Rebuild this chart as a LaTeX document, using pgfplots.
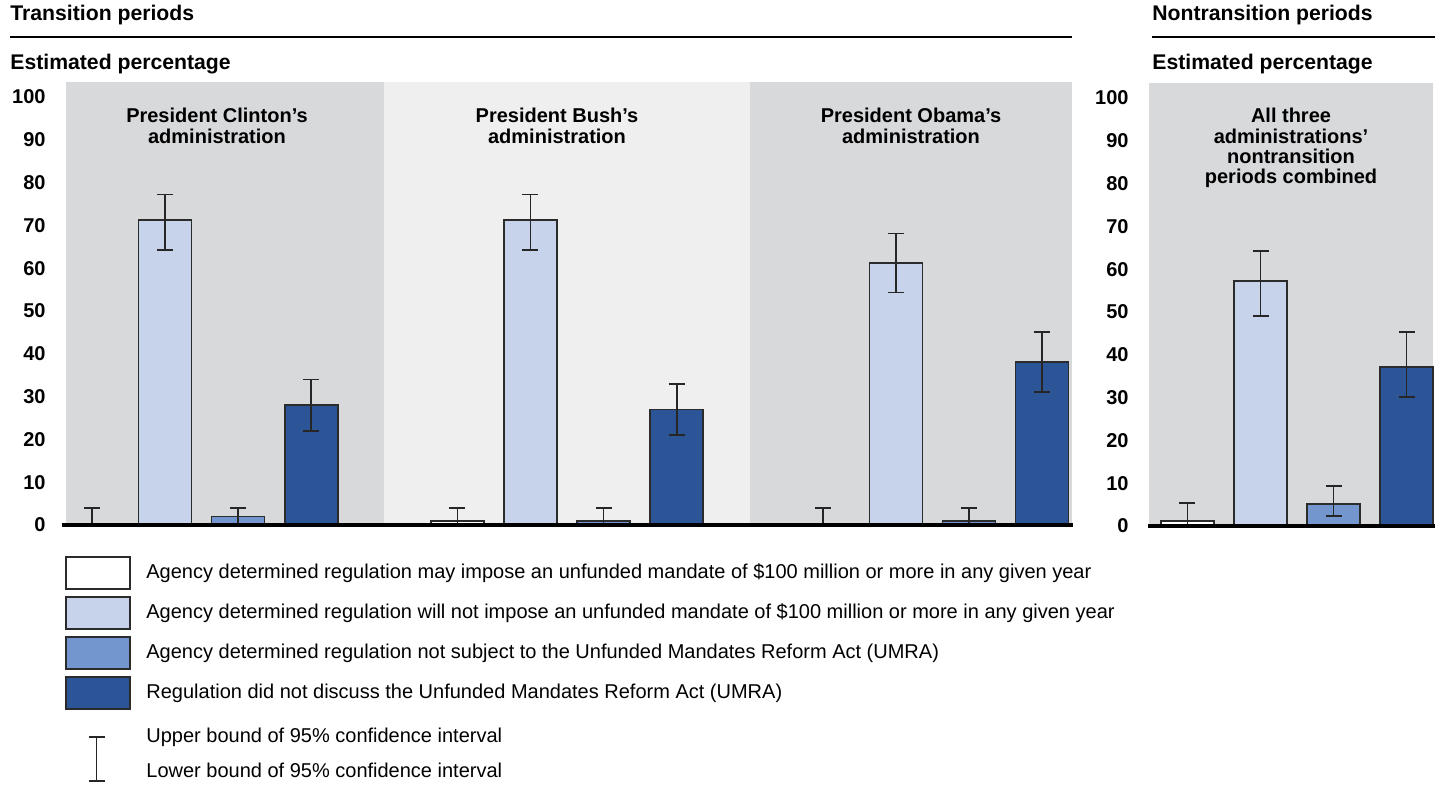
\documentclass[border=0pt]{standalone}
\usepackage{pgfplots}
\pgfplotsset{compat=1.18}
\usepackage{fontspec}
\setmainfont{Liberation Sans}

\definecolor{banddark}{RGB}{216,217,219}
\definecolor{bandlight}{RGB}{239,239,239}
\definecolor{umraA}{RGB}{255,255,255}
\definecolor{umraB}{RGB}{198,211,234}
\definecolor{umraC}{RGB}{114,150,205}
\definecolor{umraD}{RGB}{44,85,152}
\definecolor{edge}{RGB}{43,43,43}

% x: bar slots (0..3 Clinton, 5..8 Bush, 10..13 Obama); y: estimate; ep/em: CI plus/minus
\pgfplotstableread{
x  y     ep   em
0  0     4.0  0
5  1     3.0  1
10 0     4.0  0
}\tabA
\pgfplotstableread{
x  y     ep   em
1  71.2  6.0  6.9
6  71.2  6.0  6.9
11 61.2  6.9  6.9
}\tabB
\pgfplotstableread{
x  y     ep   em
2  2     2.0  2
7  1     3.0  1
12 1     3.0  1
}\tabC
\pgfplotstableread{
x  y     ep   em
3  28.1  5.9  6.1
8  27.0  6.0  6.0
13 38.1  6.9  7.0
}\tabD
% nontransition periods combined
\pgfplotstableread{
x y    ep   em
0 1.2  4.1  1.2
}\tabNA
\pgfplotstableread{
x y    ep   em
1 57.2 7.0  8.2
}\tabNB
\pgfplotstableread{
x y    ep   em
2 5.2  4.1  2.9
}\tabNC
\pgfplotstableread{
x y    ep   em
3 37.1 8.2  7.0
}\tabND

\pgfplotsset{
  umra/.style={
    scale only axis, height=221.5pt, ymin=0, ymax=103.5,
    ybar, bar shift=0pt, bar width=0.725,
    axis line style={draw=none}, tick style={draw=none},
    major tick length=0pt, xtick=\empty,
    ytick={0,10,20,30,40,50,60,70,80,90,100},
    yticklabels={0,10,20,30,40,50,60,70,80,90,100},
    yticklabel style={font=\bfseries, anchor=east, xshift=-6.7pt},
    clip=false,
  },
  ebar/.style={
    draw=edge, line width=0.8pt,
    error bars/y dir=both, error bars/y explicit,
    error bars/error bar style={line width=0.9pt, color=black!85},
    error bars/error mark options={rotate=90, line width=0.9pt, color=black!85, mark size=4pt},
  },
}

\begin{document}
\begin{tikzpicture}
\path[use as bounding box] (0,0) rectangle (722pt,394pt);

% headings
\begin{scope}[every node/.style={anchor=base west, inner sep=0,
  font=\bfseries\fontsize{10.6}{12}\selectfont}]
  \node at (5pt,383.6pt) {Transition periods};
  \node at (5pt,359.2pt) {Estimated percentage};
  \node at (576pt,383.6pt) {Nontransition periods};
  \node at (576pt,359.2pt) {Estimated percentage};
\end{scope}
\draw[line width=1pt] (5pt,375.5pt) -- (536pt,375.5pt);
\draw[line width=1pt] (576pt,375.5pt) -- (717.5pt,375.5pt);

\begin{axis}[umra, at={(33pt,131.5pt)}, anchor=south west,
  width=503pt, xmin=-0.356, xmax=13.41]
  \fill[banddark] (axis cs:-0.356,0) rectangle (axis cs:4,103.5);
  \fill[bandlight] (axis cs:4,0) rectangle (axis cs:9,103.5);
  \fill[banddark] (axis cs:9,0) rectangle (axis cs:13.41,103.5);
  \addplot[ebar, fill=umraA] table[x=x, y=y, y error plus=ep, y error minus=em] {\tabA};
  \addplot[ebar, fill=umraB] table[x=x, y=y, y error plus=ep, y error minus=em] {\tabB};
  \addplot[ebar, fill=umraC] table[x=x, y=y, y error plus=ep, y error minus=em] {\tabC};
  \addplot[ebar, fill=umraD] table[x=x, y=y, y error plus=ep, y error minus=em] {\tabD};
  \draw[line width=1.7pt] (axis cs:-0.41,0) -- (axis cs:13.42,0);
\end{axis}

\begin{axis}[umra, at={(574.5pt,131pt)}, anchor=south west,
  width=142pt, xmin=-0.527, xmax=3.363]
  \fill[banddark] (axis cs:-0.527,0) rectangle (axis cs:3.363,103.5);
  \addplot[ebar, fill=umraA] table[x=x, y=y, y error plus=ep, y error minus=em] {\tabNA};
  \addplot[ebar, fill=umraB] table[x=x, y=y, y error plus=ep, y error minus=em] {\tabNB};
  \addplot[ebar, fill=umraC] table[x=x, y=y, y error plus=ep, y error minus=em] {\tabNC};
  \addplot[ebar, fill=umraD] table[x=x, y=y, y error plus=ep, y error minus=em] {\tabND};
  \draw[line width=1.7pt] (axis cs:-0.54,0) -- (axis cs:3.39,0);
\end{axis}

% group labels
\begin{scope}[every node/.style={anchor=north, inner sep=0, align=center,
  font=\bfseries\fontsize{10}{10.15}\selectfont}]
  \node at (108.5pt,340pt) {President Clinton’s\\administration};
  \node at (278.5pt,340pt) {President Bush’s\\administration};
  \node at (455.5pt,340pt) {President Obama’s\\administration};
  \node at (645.5pt,340pt) {All three\\administrations’\\nontransition\\periods combined};
\end{scope}

% legend
\foreach \c/\t [count=\i from 0] in {
  umraA/{Agency determined regulation may impose an unfunded mandate of \$100 million or more in any given year},
  umraB/{Agency determined regulation will not impose an unfunded mandate of \$100 million or more in any given year},
  umraC/{Agency determined regulation not subject to the Unfunded Mandates Reform Act (UMRA)},
  umraD/{Regulation did not discuss the Unfunded Mandates Reform Act (UMRA)}} {
  \filldraw[fill=\c, draw=edge, line width=0.7pt]
    (33pt,{115.5pt-20pt*\i}) rectangle (65pt,{99.5pt-20pt*\i});
  \node[anchor=west, inner sep=0] at (73pt,{107.5pt-20pt*\i}) {\t};
}
\draw[line width=0.6pt, black!85] (48.4pt,25.5pt) -- (48.4pt,3.5pt)
  (44.4pt,25.5pt) -- (52.4pt,25.5pt) (44.4pt,3.5pt) -- (52.4pt,3.5pt);
\node[anchor=west, inner sep=0] at (73pt,25.5pt) {Upper bound of 95\% confidence interval};
\node[anchor=west, inner sep=0] at (73pt,9pt) {Lower bound of 95\% confidence interval};
\end{tikzpicture}
\end{document}
